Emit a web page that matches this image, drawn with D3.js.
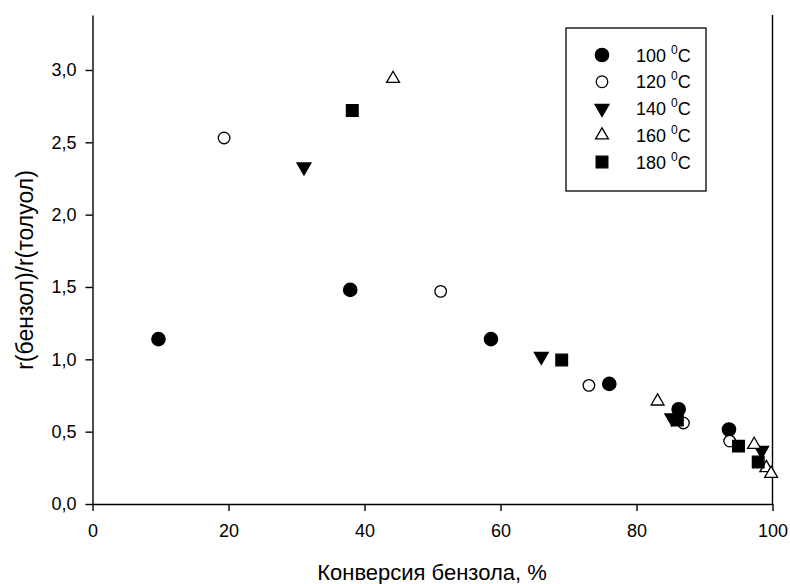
<!DOCTYPE html>
<meta charset="utf-8">
<style>
body { margin: 0; background: #fff; }
text { font-family: Arial, "Liberation Sans", sans-serif; fill: #000; }
.axis text { font-size: 18px; }
.axis path, .axis line { stroke: #000; stroke-width: 1.4px; }
</style>
<svg width="790" height="584"></svg>
<script src="https://d3js.org/d3.v7.min.js"></script>
<script>
// series: temperature labels and measured points
var temps = ["100", "120", "140", "160", "180"];
var conv100 = [9.7, 37.9, 58.6, 76.0, 86.2, 93.6];
var ratio100 = [1.14, 1.48, 1.14, 0.83, 0.655, 0.515];
var conv120 = [19.35, 51.2, 73.0, 86.9, 93.7];
var ratio120 = [2.53, 1.47, 0.82, 0.56, 0.435];
var conv140 = [31.1, 66.0, 85.2, 98.4];
var ratio140 = [2.33, 1.02, 0.595, 0.37];
var conv160 = [44.2, 83.1, 97.3, 99.1, 99.8];
var ratio160 = [2.94, 0.71, 0.41, 0.25, 0.21];
var conv180 = [38.2, 69.0, 86.0, 95.0, 97.9];
var ratio180 = [2.72, 0.995, 0.58, 0.40, 0.29];
var xTicks = [0, 20, 40, 60, 80, 100];
var yTicks = [0, 0.5, 1.0, 1.5, 2.0, 2.5, 3.0];

var svg = d3.select("svg");

var mLeft = 92.5, mRight = 772.5, mTop = 15, mBottom = 504;

var x = d3.scaleLinear().domain([0, 100]).range([mLeft, mRight]);
var y = d3.scaleLinear().domain([0, 3.38]).range([mBottom, mTop]);

var fmt = d => d3.format(".1f")(d).replace(".", ",");

svg.append("g")
    .attr("class", "axis")
    .attr("transform", "translate(0," + mBottom + ")")
    .call(d3.axisBottom(x).tickValues(xTicks).tickSize(7).tickSizeOuter(0).tickPadding(13))

svg.append("g")
    .attr("class", "axis")
    .attr("transform", "translate(" + mLeft + ",0)")
    .call(d3.axisLeft(y).tickValues(yTicks).tickFormat(fmt).tickSize(7).tickSizeOuter(0).tickPadding(9))

// right frame line
svg.append("line")
    .attr("x1", mRight).attr("x2", mRight)
    .attr("y1", mTop).attr("y2", mBottom)
    .attr("stroke", "#000").attr("stroke-width", 1.4)

svg.append("text")
    .attr("x", 432)
    .attr("y", 580)
    .attr("text-anchor", "middle")
    .attr("font-size", 22)
    .text("Конверсия бензола, %")

svg.append("text")
    .attr("transform", "translate(33," + 270 + ") rotate(-90)")
    .attr("text-anchor", "middle")
    .attr("font-size", 23)
    .text("r(бензол)/r(толуол)")

var styles = [
  {type: d3.symbolCircle, size: 140, fill: "#000", rot: 0},
  {type: d3.symbolCircle, size: 105, fill: "#fff", rot: 0},
  {type: d3.symbolTriangle, size: 84, fill: "#000", rot: 180},
  {type: d3.symbolTriangle, size: 72, fill: "#fff", rot: 0},
  {type: d3.symbolSquare, size: 136, fill: "#000", rot: 0}
];

var series = [
  {xs: conv100, ys: ratio100},
  {xs: conv120, ys: ratio120},
  {xs: conv140, ys: ratio140},
  {xs: conv160, ys: ratio160},
  {xs: conv180, ys: ratio180}
];

series.forEach((s, i) => {
  var st = styles[i];
  svg.append("g").selectAll("path")
      .data(s.xs.map((v, j) => [v, s.ys[j]]))
      .enter().append("path")
        .attr("d", d3.symbol().type(st.type).size(st.size))
        .attr("transform", d => "translate(" + x(d[0]) + "," + y(d[1]) + ") rotate(" + st.rot + ")")
        .attr("fill", st.fill)
        .attr("stroke", "#000")
        .attr("stroke-width", 1.3)
});

// legend
var legend = svg.append("g")
legend.append("rect")
    .attr("x", 566).attr("y", 28)
    .attr("width", 140).attr("height", 163)
    .attr("fill", "#fff").attr("stroke", "#000").attr("stroke-width", 1.3)

var rows = legend.selectAll("g")
    .data(temps)
    .enter().append("g")
      .attr("transform", (t, i) => "translate(602," + (55 + i * 26.75) + ")")
rows.append("path")
    .attr("d", (t, i) => d3.symbol().type(styles[i].type).size(styles[i].size)())
    .attr("transform", (t, i) => "rotate(" + styles[i].rot + ")")
    .attr("fill", (t, i) => styles[i].fill)
    .attr("stroke", "#000")
    .attr("stroke-width", 1.3)
var lbl = rows.append("text")
    .attr("x", 34)
    .attr("y", 6.5)
    .attr("font-size", 18)
    .text(t => t + " ")
lbl.append("tspan")
    .attr("font-size", 12)
    .attr("dy", -8)
    .text("0")
lbl.append("tspan")
    .attr("dy", 8)
    .text("C")
</script>
